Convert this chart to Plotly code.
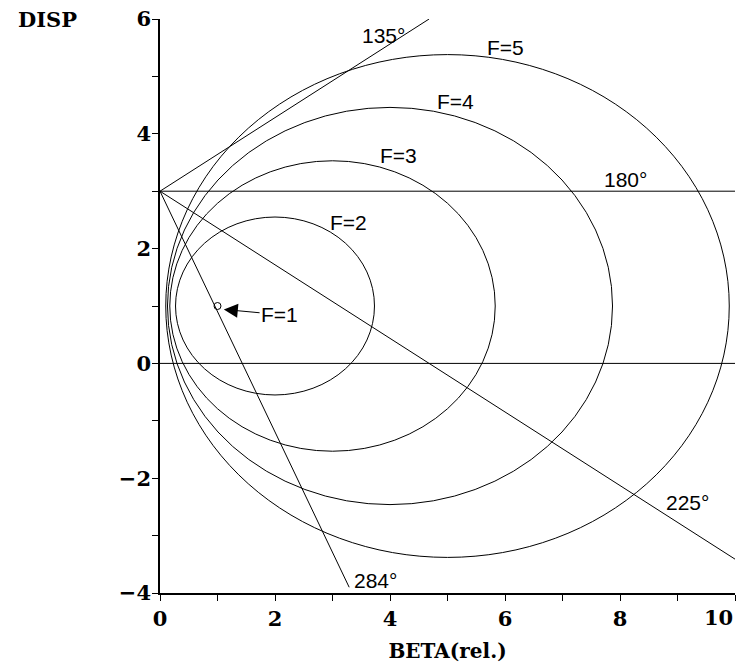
import plotly.graph_objects as go

# Ellipses of constant F in the (BETA, DISP) plane
f_labels = ["F=2", "F=3", "F=4", "F=5"]
centre_beta = [2.0, 3.0, 4.0, 5.0]
centre_disp = [1.0, 1.0, 1.0, 1.0]
half_beta = [1.73, 2.83, 3.87, 4.90]
half_disp = [1.55, 2.53, 3.46, 4.38]
f_label_beta = [3.27, 4.15, 5.14, 6.01]
f_label_disp = [2.45, 3.63, 4.57, 5.51]

# Phase lines starting at the common origin point
phase_labels = ["135°", "180°", "225°", "284°"]
phase_start_beta = [0.0, 0.0, 0.0, 0.0]
phase_start_disp = [3.0, 3.0, 3.0, 3.0]
phase_end_beta = [4.68, 10.0, 10.0, 3.29]
phase_end_disp = [6.0, 3.0, -3.41, -3.90]
phase_label_beta = [3.88, 8.10, 9.17, 3.75]
phase_label_disp = [5.72, 3.20, -2.43, -3.79]

# Zero line
zero_beta = [0.0, 10.0]
zero_disp = [0.0, 0.0]

# Degenerate case F=1 (a single point)
point_beta = [1.0]
point_disp = [1.0]
point_label = "F=1"
point_label_beta = 2.08
point_label_disp = 0.85

x_ticks = [0, 2, 4, 6, 8, 10]
x_tick_text = ["0", "2", "4", "6", "8", ""]
x_last_tick_text = "10"
y_ticks = [-4, -2, 0, 2, 4, 6]

label_font = dict(family="Liberation Sans, Arial, sans-serif", size=21, color="black")
serif_bold = dict(family="DejaVu Serif, serif", size=21, color="black", weight="bold")

fig = go.Figure()

fig.add_trace(go.Scatter(
    x=point_beta, y=point_disp, mode="markers",
    marker=dict(symbol="circle-open", size=7, color="black", line=dict(width=1)),
    showlegend=False, hoverinfo="skip",
))

shapes = []
for cx, cy, a, b in zip(centre_beta, centre_disp, half_beta, half_disp):
    shapes.append(dict(type="circle", xref="x", yref="y",
                       x0=cx - a, x1=cx + a, y0=cy - b, y1=cy + b,
                       line=dict(color="black", width=1)))
for x0, y0, x1, y1 in zip(phase_start_beta, phase_start_disp, phase_end_beta, phase_end_disp):
    shapes.append(dict(type="line", xref="x", yref="y", x0=x0, y0=y0, x1=x1, y1=y1,
                       line=dict(color="black", width=1)))
shapes.append(dict(type="line", xref="x", yref="y",
                   x0=zero_beta[0], y0=zero_disp[0], x1=zero_beta[1], y1=zero_disp[1],
                   line=dict(color="black", width=1)))

annotations = []
for txt, x, y in zip(f_labels, f_label_beta, f_label_disp):
    annotations.append(dict(x=x, y=y, xref="x", yref="y", text=txt,
                            showarrow=False, font=label_font))
for txt, x, y in zip(phase_labels, phase_label_beta, phase_label_disp):
    annotations.append(dict(x=x, y=y, xref="x", yref="y", text=txt,
                            showarrow=False, font=label_font))
annotations.append(dict(
    x=point_beta[0] + 0.11, y=point_disp[0] - 0.06, xref="x", yref="y",
    ax=point_label_beta, ay=point_label_disp, axref="x", ayref="y",
    text=point_label, font=label_font, showarrow=True,
    arrowhead=2, arrowsize=2.8, arrowwidth=1, arrowcolor="black",
))
annotations.append(dict(text="DISP", showarrow=False, font=dict(serif_bold, size=21),
                        xref="x domain", yref="y domain",
                        x=-(160 - 16) / 575, y=1 - (20 - 19) / 574,
                        xanchor="left", yanchor="middle"))
# last x tick label, kept inside the page edge
annotations.append(dict(text=x_last_tick_text, showarrow=False, font=serif_bold,
                        xref="paper", yref="paper", x=1.0, y=-(617 - 593) / 574,
                        xanchor="right", yanchor="middle"))

axis_common = dict(
    showgrid=False, zeroline=False, showline=True, linecolor="black", linewidth=1.5,
    ticks="outside", ticklen=6, tickwidth=1, tickcolor="black",
    tickfont=serif_bold,
    minor=dict(ticks="outside", ticklen=6, tickwidth=1, tickcolor="black", dtick=1),
)

fig.update_layout(
    width=744, height=666,
    margin=dict(l=160, r=9, t=19, b=73, autoexpand=False),
    paper_bgcolor="white", plot_bgcolor="white",
    showlegend=False,
    shapes=shapes,
    annotations=annotations,
    xaxis=dict(axis_common, range=[0, 10], tickvals=x_ticks, ticktext=x_tick_text,
               automargin=False, ticklabelstandoff=0,
               title=dict(text="BETA(rel.)", font=dict(serif_bold, size=20), standoff=14)),
    yaxis=dict(axis_common, range=[-4, 6], tickvals=y_ticks, automargin=False,
               ticklabelstandoff=-3),
)

fig.write_html("out.html")
